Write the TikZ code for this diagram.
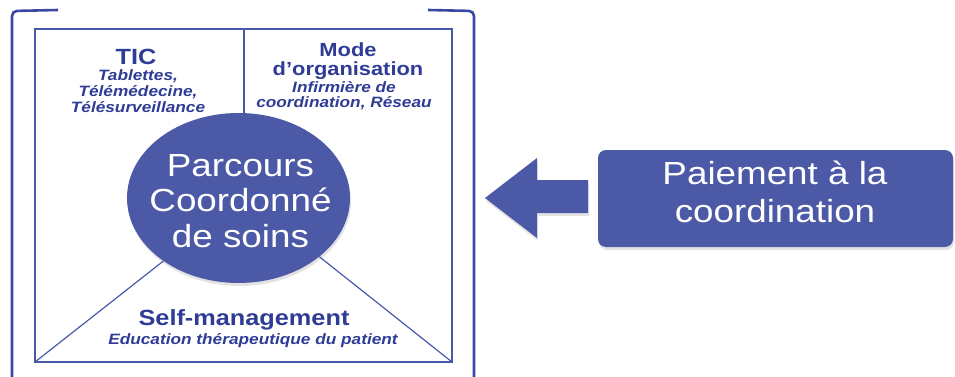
\documentclass[tikz,border=0pt]{standalone}
\usepackage{fontspec}
\setmainfont[FakeStretch=1.15]{Liberation Sans}
\usetikzlibrary{shapes.geometric,shadows}

\definecolor{cadre}{RGB}{58,72,164}
\definecolor{trait}{RGB}{74,88,170}
\definecolor{remplissage}{RGB}{75,89,166}
\definecolor{texte}{RGB}{46,60,150}

\begin{document}
\begin{tikzpicture}[x=1pt,y=-1pt,
	titre/.style={text=texte,font=\bfseries\fontsize{22}{22}\selectfont,inner sep=0pt},
	soustitre/.style={text=texte,font=\bfseries\itshape\fontsize{15}{16}\selectfont,align=center,inner sep=0pt},
	blanc/.style={text=white,font=\fontsize{32}{35.5}\selectfont,align=center,inner sep=0pt},
	ombre/.style={drop shadow={opacity=0.22,shadow xshift=1pt,shadow yshift=-3pt}},
	fin/.style={trait,line width=1.2pt}]
	
	\useasboundingbox (0,0) rectangle (955,377);
	
	% bracket around the scheme
	\draw[cadre,line width=2.6pt,rounded corners=5pt] (58,10) -- (12,11) -- (12,385);
	\draw[cadre,line width=2.6pt,rounded corners=5pt] (428,10) -- (474,11) -- (474,385);
	
	% inner frame and divider
	\draw[fin] (35,29) rectangle (452,362);
	\coordinate (divhaut) at (244,29);
	\coordinate (divbas) at (244,198);
	\draw[fin] (divhaut) -- (divbas);
	
	% central ellipse
	\node[ellipse,fill=remplissage,ombre,minimum width=223pt,minimum height=170pt,inner sep=0pt] (parcours) at (238.5,198) {};
	\node[blanc] (parcourstxt) at (240.5,201) {Parcours\\Coordonné\\de soins};
	
	% lower wedge
	\coordinate (coinbg) at (35,362);
	\coordinate (coinbd) at (452,362);
	\draw[fin] (parcours.220) -- (coinbg);
	\draw[fin] (parcours.324) -- (coinbd);
	
	% TIC
	\node[titre,anchor=base] (tic) at (136,65) {TIC};
	\node[soustitre,anchor=north] (tictxt) at (138,69) {Tablettes,\\Télémédecine,\\Télésurveillance};
	
	% mode d'organisation
	\node[titre,anchor=north,align=center,font=\bfseries\fontsize{19}{19}\selectfont] (mode) at (348,42.4) {Mode\\d’organisation};
	\node[soustitre,anchor=north,font=\bfseries\itshape\fontsize{15}{15.5}\selectfont] (modetxt) at (344,81) {Infirmière de\\coordination, Réseau};
	
	% self-management
	\node[titre,anchor=base] (self) at (244,325) {Self-management};
	\node[soustitre,anchor=base] (selftxt) at (253,344) {Education thérapeutique du patient};
	
	% payment box and arrow
	\node[rounded corners=8pt,fill=remplissage,ombre,minimum width=355pt,minimum height=97pt] (paiement) at (775.5,198.5) {};
	\node[blanc,anchor=north,font=\fontsize{32}{37.5}\selectfont] (paiementtxt) at (775,161) {Paiement à la\\coordination};
	\fill[remplissage,ombre] (485,198) -- (537,158) -- (537,180) -- (588,180) -- (588,213) -- (537,213) -- (537,238) -- cycle;
	
\end{tikzpicture}
\end{document}
